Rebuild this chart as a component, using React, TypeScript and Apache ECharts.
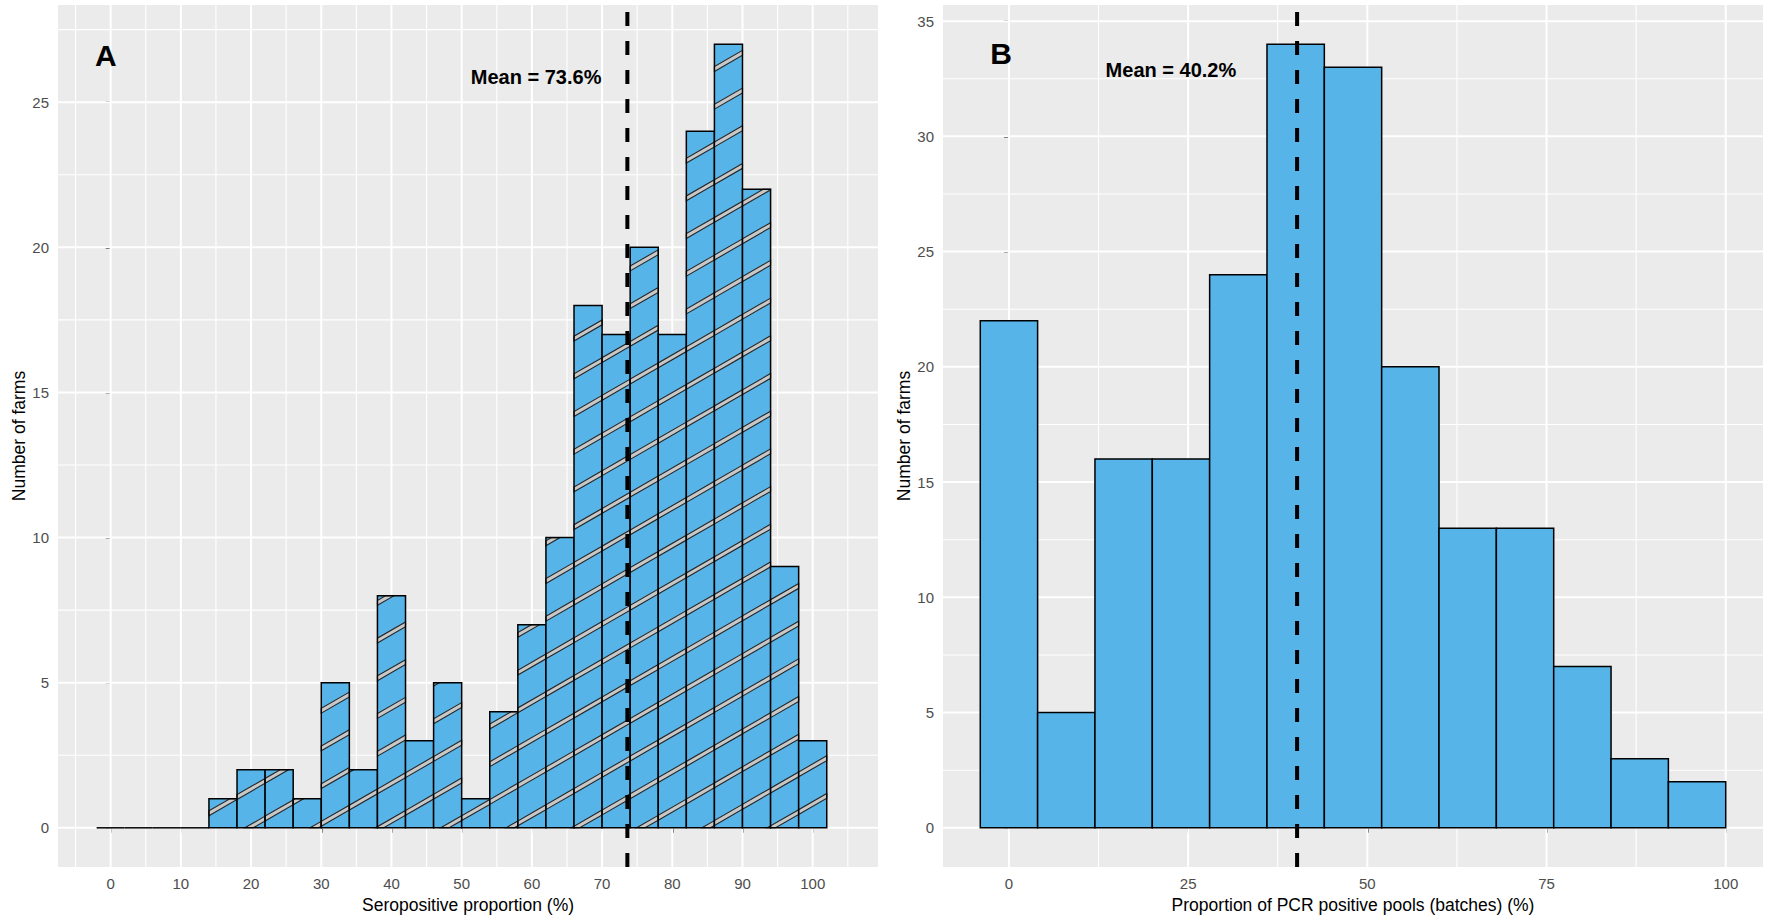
import React, { useEffect, useRef } from "react";
import * as echarts from "echarts";

// ---------- data ----------
const seroBinCenters = [0, 4, 8, 12, 16, 20, 24, 28, 32, 36, 40, 44, 48, 52, 56, 60, 64, 68, 72, 76, 80, 84, 88, 92, 96, 100];
const seroCounts = [0, 0, 0, 0, 1, 2, 2, 1, 5, 2, 8, 3, 5, 1, 4, 7, 10, 18, 17, 20, 17, 24, 27, 22, 9, 3];
const seroBinWidth = 4;
const seroMean = 73.6;

const pcrBinCenters = [0, 8, 16, 24, 32, 40, 48, 56, 64, 72, 80, 88, 96];
const pcrCounts = [22, 5, 16, 16, 24, 34, 33, 20, 13, 13, 7, 3, 2];
const pcrBinWidth = 8;
const pcrMean = 40.2;

const seroXMajor = [0, 10, 20, 30, 40, 50, 60, 70, 80, 90, 100];
const seroXMinor = [-5, 5, 15, 25, 35, 45, 55, 65, 75, 85, 95, 105];
const seroYMajor = [0, 5, 10, 15, 20, 25];
const seroYMinor = [2.5, 7.5, 12.5, 17.5, 22.5, 27.5];

const pcrXMajor = [0, 25, 50, 75, 100];
const pcrXMinor = [12.5, 37.5, 62.5, 87.5];
const pcrYMajor = [0, 5, 10, 15, 20, 25, 30, 35];
const pcrYMinor = [2.5, 7.5, 12.5, 17.5, 22.5, 27.5, 32.5];

const seroNotes = ["A", "Mean = 73.6%"];
const seroNoteX = [-0.7, 60.6];
const seroNoteY = [26.6, 25.88];
const pcrNotes = ["B", "Mean = 40.2%"];
const pcrNoteX = [-1.1, 22.6];
const pcrNoteY = [33.6, 32.9];

const xTitles = ["Seropositive proportion (%)", "Proportion of PCR positive pools (batches) (%)"];
const yTitle = "Number of farms";

// ---------- styles ----------
const FONT = "Liberation Sans, Arial, Helvetica, sans-serif";
const BAR_FILL = "#56B4E9";
const PANEL_BG = "#EBEBEB";
const STRIPE_SLOPE = Math.tan((30 * Math.PI) / 180);
const STRIPE_SPACING = 37.7; // vertical px between stripes
const STRIPE_BAND = 4.2; // perpendicular width
const STRIPE_ANCHOR_X = 30;
const STRIPE_ANCHOR_OFFSET = -4;

function clipHalf(poly: number[][], s: number, c: number, sign: number) {
  const out: number[][] = [];
  for (let i = 0; i < poly.length; i++) {
    const a = poly[i];
    const b = poly[(i + 1) % poly.length];
    const fa = sign * (a[1] + s * a[0] - c);
    const fb = sign * (b[1] + s * b[0] - c);
    if (fa >= 0) out.push(a);
    if (fa >= 0 !== fb >= 0) {
      const t = fa / (fa - fb);
      out.push([a[0] + t * (b[0] - a[0]), a[1] + t * (b[1] - a[1])]);
    }
  }
  return out;
}

function makeBarRenderer(binWidth: number, striped: boolean) {
  return (params: any, api: any) => {
    const c = api.value(0);
    const v = api.value(1);
    const p0 = api.coord([c - binWidth / 2, v]);
    const p1 = api.coord([c + binWidth / 2, 0]);
    const x = p0[0];
    const y = p0[1];
    const w = p1[0] - p0[0];
    const h = p1[1] - p0[1];
    const children: any[] = [];
    if (h <= 0.01) {
      children.push({
        type: "line",
        shape: { x1: x, y1: p1[1], x2: x + w, y2: p1[1] },
        style: { stroke: "#000", lineWidth: 1.5 },
      });
      return { type: "group", children };
    }
    children.push({
      type: "rect",
      shape: { x, y, width: w, height: h },
      style: { fill: BAR_FILL, stroke: "none" },
    });
    if (striped) {
      const s = STRIPE_SLOPE;
      const a = api.coord([STRIPE_ANCHOR_X, 0]);
      const b0 = a[1] + STRIPE_ANCHOR_OFFSET + s * a[0];
      const hv = STRIPE_BAND / 2 / Math.cos(Math.atan(s));
      const xL = x, xR = x + w, yT = y, yB = y + h;
      const bMin = yT + s * xL - hv;
      const bMax = yB + s * xR + hv;
      const kMin = Math.ceil((bMin - b0) / STRIPE_SPACING);
      const kMax = Math.floor((bMax - b0) / STRIPE_SPACING);
      const rectPoly = [
        [xL, yT],
        [xR, yT],
        [xR, yB],
        [xL, yB],
      ];
      for (let k = kMin; k <= kMax; k++) {
        const b = b0 + k * STRIPE_SPACING;
        let poly = clipHalf(rectPoly, s, b - hv, 1);
        poly = clipHalf(poly, s, b + hv, -1);
        if (poly.length >= 3) {
          children.push({
            type: "polygon",
            shape: { points: poly },
            style: { fill: "#C8C8C8", stroke: "#262626", lineWidth: 1.1 },
          });
        }
      }
    }
    children.push({
      type: "rect",
      shape: { x, y, width: w, height: h },
      style: { fill: "none", stroke: "#000", lineWidth: 1.5 },
    });
    return { type: "group", children };
  };
}

const vGridRender = (params: any, api: any) => {
  const cs = params.coordSys;
  const px = api.coord([api.value(0), 0])[0];
  const major = api.value(2) === 1;
  return {
    type: "line",
    shape: { x1: px, y1: cs.y, x2: px, y2: cs.y + cs.height },
    style: { stroke: "#FFFFFF", lineWidth: major ? 2 : 1.1 },
  };
};

const hGridRender = (params: any, api: any) => {
  const cs = params.coordSys;
  const py = api.coord([0, api.value(1)])[1];
  const major = api.value(2) === 1;
  return {
    type: "line",
    shape: { x1: cs.x, y1: py, x2: cs.x + cs.width, y2: py },
    style: { stroke: "#FFFFFF", lineWidth: major ? 2 : 1.1 },
  };
};

const meanRender = (params: any, api: any) => {
  const cs = params.coordSys;
  const px = api.coord([api.value(0), 0])[0];
  return {
    type: "line",
    shape: { x1: px, y1: cs.y + cs.height, x2: px, y2: cs.y },
    style: { stroke: "#000", lineWidth: 4, lineDash: [14, 15] },
  };
};

function makeNoteRender(texts: string[]) {
  return (params: any, api: any) => {
    const idx = api.value(2);
    const p = api.coord([api.value(0), api.value(1)]);
    const big = idx === 0;
    return {
      type: "text",
      x: p[0],
      y: p[1],
      style: {
        text: texts[idx],
        fontSize: big ? 30 : 20,
        fontWeight: "bold",
        fontFamily: FONT,
        fill: "#000",
        align: "center",
        verticalAlign: "middle",
      },
    };
  };
}

function panelSeries(
  i: number,
  xMajor: number[],
  xMinor: number[],
  yMajor: number[],
  yMinor: number[],
  centers: number[],
  counts: number[],
  binWidth: number,
  striped: boolean,
  mean: number,
  notes: string[],
  noteX: number[],
  noteY: number[]
) {
  const common = { xAxisIndex: i, yAxisIndex: i, silent: true, animation: false };
  return [
    {
      ...common,
      type: "custom",
      z: 1,
      renderItem: vGridRender,
      data: [...xMajor.map((v) => [v, 0, 1]), ...xMinor.map((v) => [v, 0, 0])],
    },
    {
      ...common,
      type: "custom",
      z: 1,
      renderItem: hGridRender,
      data: [...yMajor.map((v) => [0, v, 1]), ...yMinor.map((v) => [0, v, 0])],
    },
    {
      ...common,
      type: "custom",
      z: 2,
      renderItem: makeBarRenderer(binWidth, striped),
      data: centers.map((c, j) => [c, counts[j]]),
    },
    {
      ...common,
      type: "custom",
      z: 3,
      renderItem: meanRender,
      data: [[mean, 0]],
    },
    {
      ...common,
      type: "custom",
      z: 4,
      renderItem: makeNoteRender(notes),
      data: notes.map((_, j) => [noteX[j], noteY[j], j]),
    },
  ];
}

function xAxisOf(i: number, min: number, max: number, ticks: number[]) {
  return {
    type: "value",
    gridIndex: i,
    min,
    max,
    axisLine: { show: false },
    axisTick: { show: true, length: 5, customValues: ticks, lineStyle: { color: "#333333", width: 1.6 } },
    axisLabel: { show: true, customValues: ticks, color: "#4D4D4D", fontSize: 15, margin: 9, fontFamily: FONT },
    splitLine: { show: false },
    name: xTitles[i],
    nameLocation: "middle",
    nameGap: 27,
    nameTextStyle: { color: "#000", fontSize: 17.5, fontFamily: FONT },
  };
}

function yAxisOf(i: number, min: number, max: number, ticks: number[], gap: number) {
  return {
    type: "value",
    gridIndex: i,
    min,
    max,
    axisLine: { show: false },
    axisTick: { show: true, length: 5, customValues: ticks, lineStyle: { color: "#333333", width: 1.6 } },
    axisLabel: { show: true, customValues: ticks, color: "#4D4D4D", fontSize: 15, margin: 9, fontFamily: FONT },
    splitLine: { show: false },
    name: yTitle,
    nameLocation: "middle",
    nameGap: gap,
    nameTextStyle: { color: "#000", fontSize: 17.5, fontFamily: FONT },
  };
}

const option: any = {
  animation: false,
  backgroundColor: "#FFFFFF",
  grid: [
    { left: 58, top: 5, width: 820, height: 862, show: true, backgroundColor: PANEL_BG, borderWidth: 0 },
    { left: 943, top: 5, width: 820, height: 862, show: true, backgroundColor: PANEL_BG, borderWidth: 0 },
  ],
  xAxis: [xAxisOf(0, -7.5, 109.3, seroXMajor), xAxisOf(1, -9.2, 105.2, pcrXMajor)],
  yAxis: [yAxisOf(0, -1.35, 28.35, seroYMajor, 29), yAxisOf(1, -1.7, 35.7, pcrYMajor, 27)],
  series: [
    ...panelSeries(0, seroXMajor, seroXMinor, seroYMajor, seroYMinor, seroBinCenters, seroCounts, seroBinWidth, true, seroMean, seroNotes, seroNoteX, seroNoteY),
    ...panelSeries(1, pcrXMajor, pcrXMinor, pcrYMajor, pcrYMinor, pcrBinCenters, pcrCounts, pcrBinWidth, false, pcrMean, pcrNotes, pcrNoteX, pcrNoteY),
  ],
};

export default function App() {
  const ref = useRef<HTMLDivElement>(null);
  useEffect(() => {
    if (!ref.current) return;
    const chart = echarts.init(ref.current, null, { renderer: "svg" });
    chart.setOption(option);
    return () => chart.dispose();
  }, []);
  return (
    <div
      ref={ref}
      style={{ position: "absolute", left: 0, top: 0, width: 1771, height: 924, background: "#fff" }}
    />
  );
}
